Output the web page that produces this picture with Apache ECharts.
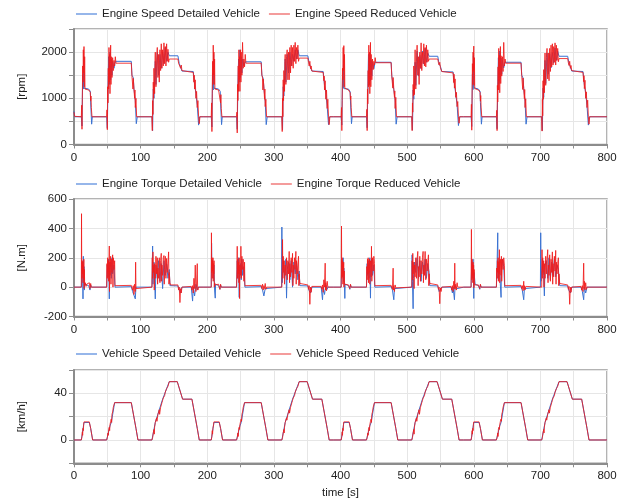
<!DOCTYPE html>
<html>
<head>
<meta charset="utf-8">
<script src="https://cdn.jsdelivr.net/npm/echarts@6/dist/echarts.min.js"></script>
<style>
  html, body { margin: 0; padding: 0; background: #fff; }
  #chart { width: 627px; height: 502px; }
</style>
</head>
<body>
<div id="chart"></div>
<script>
// start time of each repetition of the drive cycle [s]; the cycle arrays below use time relative to it
const cycleStart = [0, 195, 390, 585];

// engine speed [rpm]
const esRed1 = [[0,700],[1,610],[11,600],[11.5,850],[12,330],[12.5,1000],[13,1700],[13.5,1350],[14,2050],[14.5,1550],[15,2120],[15.5,1250],[16,1900],[16.5,1200],[17,1180],[22,1180],[22.5,1140],[24.5,1130],[25,950],[25.5,1050],[26,800],[27,600],[49,600],[49.5,750],[50,320],[50.5,1250],[51,900],[51.5,1650],[52,1200],[52.5,2100],[53,1350],[53.5,1950],[54,1100],[54.5,1750],[55,2150],[55.5,1300],[56,1900],[57,1450],[58,1880],[59,1600],[60,1820],[61,1700],[62,1900],[63,1760],[86,1760],[87,1480],[88,1450],[88.5,1200],[89,1430],[90,1200],[91,1000],[91.5,1180],[92,800],[93,1000],[94,600],[117,600],[117.5,300],[118,950],[118.5,650],[119,1350],[119.5,1000],[120,1650],[121,1100],[121.5,1750],[122,2000],[123,1250],[124,1850],[125,2100],[126,1450],[127,1950],[128,1350],[129,2050],[130,1600],[131,2180],[132,1650],[133,2050],[134,1700],[135,2200],[136,1750],[137,2120],[138,1700],[139,2180],[140,1800],[141,2060],[142,1780],[143,1850],[156,1850],[157,1760],[158,1720],[159,1790],[160,1650],[161,1720],[162,1600],[163,1560],[179,1560],[180,1350],[180.5,1500],[181,1200],[182,1400],[183,1000],[184,1150],[185,800],[186,950],[187,600],[188,450],[189,600],[195,600]];
const esRed2 = [[0,600],[11,600],[11.5,900],[12,280],[12.5,1100],[13,1800],[13.5,1300],[14,2150],[14.5,1500],[15,2000],[15.5,1300],[16,1850],[16.5,1200],[17,1180],[22,1180],[22.5,1130],[24.5,1130],[25,900],[25.5,1080],[26,780],[27,600],[49,600],[49.5,700],[50,250],[50.5,1300],[51,950],[51.5,1700],[52,1150],[52.5,2050],[53,1400],[53.5,1900],[54,1150],[54.5,1800],[55,2050],[55.5,1350],[56,2000],[57,1500],[58,2210],[59,1650],[60,1850],[61,1680],[62,1950],[63,1760],[86,1760],[87,1500],[88,1440],[88.5,1180],[89,1420],[90,1250],[91,980],[91.5,1200],[92,820],[93,980],[94,600],[117,600],[117.5,280],[118,1000],[118.5,600],[119,1400],[119.5,950],[120,1600],[121,1150],[121.5,1800],[122,1950],[123,1300],[124,1900],[125,2050],[126,1400],[127,2000],[128,1400],[129,2100],[130,1550],[131,2150],[132,1700],[133,2100],[134,1650],[135,2150],[136,1800],[137,2210],[138,1750],[139,2100],[140,1850],[141,2150],[142,1800],[143,1870],[156,1870],[157,1780],[158,1700],[159,1800],[160,1640],[161,1700],[162,1590],[163,1560],[179,1560],[180,1380],[180.5,1480],[181,1180],[182,1380],[183,980],[184,1180],[185,780],[186,980],[187,600],[188,430],[189,600],[195,600]];
const esRed3 = [[0,600],[11,600],[11.5,800],[12,300],[12.5,950],[13,1650],[13.5,1400],[14,2100],[14.5,1600],[15,2140],[15.5,1250],[16,1950],[16.5,1220],[17,1180],[22,1180],[22.5,1140],[24.5,1120],[25,970],[25.5,1050],[26,800],[27,600],[49,600],[49.5,760],[50,300],[50.5,1200],[51,880],[51.5,1600],[52,1250],[52.5,2150],[53,1300],[53.5,2000],[54,1100],[54.5,1700],[55,2210],[55.5,1250],[56,1950],[57,1400],[58,1850],[59,1620],[60,1800],[61,1720],[62,1880],[63,1770],[86,1770],[87,1470],[88,1460],[88.5,1220],[89,1450],[90,1200],[91,1020],[91.5,1160],[92,780],[93,1020],[94,600],[117,600],[117.5,300],[118,900],[118.5,700],[119,1300],[119.5,1050],[120,1700],[121,1080],[121.5,1700],[122,2050],[123,1200],[124,1800],[125,2150],[126,1500],[127,1900],[128,1300],[129,2000],[130,1650],[131,2200],[132,1600],[133,2000],[134,1750],[135,2180],[136,1700],[137,2100],[138,1680],[139,2150],[140,1780],[141,2050],[142,1800],[143,1850],[156,1850],[157,1770],[158,1720],[159,1780],[160,1660],[161,1700],[162,1580],[163,1550],[179,1550],[180,1340],[180.5,1520],[181,1220],[182,1420],[183,1020],[184,1130],[185,820],[186,930],[187,600],[188,460],[189,600],[195,600]];
const esRed4 = [[0,600],[11,600],[11.5,870],[12,310],[12.5,1050],[13,1750],[13.5,1300],[14,2000],[14.5,1580],[15,2130],[15.5,1280],[16,1880],[16.5,1210],[17,1180],[22,1180],[22.5,1140],[24.5,1130],[25,940],[25.5,1060],[26,810],[27,600],[49,600],[49.5,740],[50,300],[50.5,1280],[51,920],[51.5,1680],[52,1180],[52.5,2080],[53,1380],[53.5,1930],[54,1120],[54.5,1780],[55,2120],[55.5,1320],[56,1920],[57,1480],[58,1900],[59,1580],[60,2210],[61,1700],[62,1850],[63,1760],[86,1760],[87,1490],[88,1450],[88.5,1190],[89,1440],[90,1210],[91,990],[91.5,1190],[92,800],[93,990],[94,600],[117,600],[117.5,290],[118,980],[118.5,620],[119,1380],[119.5,980],[120,1620],[121,1120],[121.5,1780],[122,1980],[123,1280],[124,1880],[125,2080],[126,1420],[127,1980],[128,1380],[129,2080],[130,1580],[131,2150],[132,1680],[133,2180],[134,1720],[135,2120],[136,1780],[137,2200],[138,1720],[139,2150],[140,1820],[141,2080],[142,1790],[143,1860],[156,1860],[157,1770],[158,1710],[159,1800],[160,1650],[161,1710],[162,1600],[163,1560],[179,1560],[180,1360],[180.5,1490],[181,1210],[182,1390],[183,1000],[184,1140],[185,800],[186,960],[187,600],[188,440],[189,600],[215,600]];

const esBlue1 = [[0,720],[1,600],[11,600],[12,400],[13,1500],[14,1200],[14.5,1900],[15,1220],[17,1200],[22,1200],[24.5,1150],[25,900],[26.5,440],[27.5,600],[49,600],[50,350],[51,1200],[52,1900],[53,1300],[54,2000],[55,1400],[56,1850],[57,1500],[58,1800],[60,1650],[62,1800],[86,1800],[87,1500],[89,1450],[90,1200],[92,950],[93.5,450],[95,600],[117,600],[118,300],[119,1200],[120,1000],[122,1800],[123,1300],[125,2000],[127,1500],[129,1950],[131,1650],[133,2000],[135,1750],[137,2100],[139,1800],[141,2000],[143,1920],[156,1920],[158,1750],[160,1680],[162,1590],[163,1580],[179,1580],[181,1300],[183,1100],[185,850],[187,420],[188.5,600],[195,600]];
const esBlue2 = [[0,600],[11,600],[12,380],[13,1550],[14,1180],[14.5,1950],[15,1220],[17,1200],[22,1200],[24.5,1150],[25,900],[26.5,430],[27.5,600],[49,600],[50,330],[51,1250],[52,1850],[53,1350],[54,2050],[55,1450],[56,1900],[57,1550],[58,1850],[60,1700],[62,1790],[86,1790],[87,1500],[89,1430],[90,1220],[92,930],[93.5,430],[95,600],[117,600],[118,320],[119,1250],[120,1050],[122,1850],[123,1350],[125,1950],[127,1550],[129,2000],[131,1700],[133,1950],[135,1800],[137,2050],[139,1850],[141,2050],[143,1920],[156,1920],[158,1760],[160,1670],[162,1590],[163,1580],[179,1580],[181,1280],[183,1120],[185,830],[187,430],[188.5,600],[195,600]];
const esBlue3 = [[0,600],[11,600],[12,420],[13,1450],[14,1220],[14.5,1850],[15,1210],[17,1200],[22,1200],[24.5,1140],[25,920],[26.5,450],[27.5,600],[49,600],[50,360],[51,1180],[52,1950],[53,1280],[54,1980],[55,1380],[56,1820],[57,1480],[58,1780],[60,1640],[62,1780],[86,1780],[87,1490],[89,1460],[90,1190],[92,960],[93.5,440],[95,600],[117,600],[118,310],[119,1180],[120,980],[122,1780],[123,1280],[125,2020],[127,1480],[129,1930],[131,1640],[133,2020],[135,1740],[137,2080],[139,1780],[141,1980],[143,1910],[156,1910],[158,1740],[160,1690],[162,1580],[163,1570],[179,1570],[181,1310],[183,1090],[185,860],[187,410],[188.5,600],[195,600]];
const esBlue4 = [[0,600],[11,600],[12,390],[13,1520],[14,1190],[14.5,1920],[15,1230],[17,1200],[22,1200],[24.5,1150],[25,910],[26.5,440],[27.5,600],[49,600],[50,340],[51,1220],[52,1880],[53,1320],[54,2020],[55,1420],[56,1870],[57,1520],[58,1820],[60,1660],[62,1780],[86,1780],[87,1500],[89,1440],[90,1210],[92,940],[93.5,440],[95,600],[117,600],[118,300],[119,1220],[120,1020],[122,1820],[123,1320],[125,1980],[127,1520],[129,1970],[131,1660],[133,1990],[135,1760],[137,2090],[139,1820],[141,2020],[143,1910],[156,1910],[158,1750],[160,1680],[162,1590],[163,1580],[179,1580],[181,1290],[183,1110],[185,840],[187,420],[188.5,600],[215,600]];

// engine torque [N.m]
const tqRed1 = [[0,0],[11,0],[11.3,500],[11.6,120],[12,60],[12.4,180],[12.8,90],[13.2,170],[13.6,30],[14,150],[14.4,60],[14.8,190],[15.2,-10],[15.6,120],[16,10],[17,30],[18,5],[19,20],[22,15],[23,30],[24,-10],[25,25],[26,0],[49,0],[49.5,160],[50,60],[50.5,200],[51,100],[51.5,180],[52,40],[52.5,150],[53,280],[53.3,-30],[53.7,170],[54,80],[55,210],[55.5,20],[56,190],[57,100],[58,220],[58.5,0],[59,200],[60,120],[61,180],[61.5,10],[62,12],[86,12],[87,0],[88,-20],[89,10],[90,-50],[91,20],[92,-30],[92.5,170],[93,-10],[94,0],[117,0],[117.5,200],[118,60],[118.5,240],[119,100],[120,150],[120.5,-20],[121,160],[122,60],[123,210],[124,90],[125,200],[125.5,20],[126,130],[127,60],[128,200],[129,30],[130,180],[131,230],[131.5,40],[132,150],[133,80],[134,200],[135,215],[135.5,20],[136,120],[137,210],[138,60],[139,195],[140,100],[141,160],[142,240],[142.5,20],[143,100],[144,30],[145,15],[156,15],[157,-20],[158,0],[159,-105],[160,-10],[161,-40],[162,0],[163,5],[176,5],[177,-20],[178,10],[179,-40],[180,60],[181,-10],[182,150],[183,-30],[184,20],[185,160],[185.5,0],[186,-20],[187,0],[195,0]];
const tqRed2 = [[0,0],[11,0],[11.3,370],[11.6,100],[12,200],[12.4,60],[12.8,180],[13.2,110],[13.6,200],[14,40],[14.4,160],[14.8,90],[15.2,180],[15.6,0],[16,30],[17,15],[18,25],[19,10],[22,20],[23,10],[24,-15],[25,20],[26,0],[49,0],[49.5,120],[50,278],[50.5,60],[51,190],[51.5,90],[52,170],[52.5,30],[53,200],[53.5,-78],[54,150],[55,80],[55.5,278],[56,60],[57,210],[58,120],[59,190],[60,40],[61,170],[61.5,10],[62,12],[86,12],[87,-10],[88,20],[89,-20],[90,10],[91,-10],[92,25],[93,-15],[94,0],[117,0],[117.5,150],[118,324],[118.5,60],[119,210],[120,100],[120.5,180],[121,20],[122,150],[123,80],[124,200],[125,50],[126,180],[127,90],[128,243],[128.5,30],[129,160],[130,70],[131,200],[132,100],[133,230],[133.5,10],[134,150],[135,60],[136,200],[137,120],[138,243],[138.5,20],[139,180],[140,90],[141,150],[142,210],[142.5,10],[143,90],[144,25],[145,15],[156,15],[157,-15],[158,10],[159,-117],[160,0],[161,-35],[162,5],[163,5],[176,5],[177,-15],[178,15],[179,-35],[180,50],[181,0],[182,163],[182.5,-20],[183,30],[184,-25],[185,40],[186,0],[195,0]];
const tqRed3 = [[0,0],[11,0],[11.5,416],[11.8,120],[12,60],[12.4,200],[12.8,70],[13.2,180],[13.6,20],[14,160],[14.4,80],[14.8,170],[15.2,0],[15.6,110],[16,20],[17,25],[18,10],[19,25],[22,15],[23,25],[24,-10],[25,20],[26,0],[49,0],[49.5,140],[50,50],[50.5,190],[51,90],[51.5,200],[52,30],[52.5,160],[53,100],[53.5,190],[54,20],[55,180],[56,70],[56.5,278],[57,40],[58,200],[59,110],[60,210],[61,160],[61.5,10],[62,12],[86,12],[87,0],[88,-15],[89,129],[89.5,-20],[90,10],[91,-30],[92,15],[93,-5],[94,0],[117,0],[117.5,180],[118,50],[118.5,230],[119,90],[120,170],[120.5,-10],[121,150],[122,70],[123,200],[124,60],[125,190],[126,243],[126.5,10],[127,140],[128,70],[129,210],[130,40],[131,180],[132,90],[133,200],[134,243],[134.5,30],[135,150],[136,80],[137,243],[138,50],[139,190],[140,110],[141,170],[142,220],[142.5,10],[143,90],[144,25],[145,15],[156,15],[157,-15],[158,0],[159,-113],[160,-5],[161,-30],[162,0],[163,5],[176,5],[177,-20],[178,10],[179,-30],[180,40],[181,-10],[181.5,163],[182,-15],[183,20],[184,-20],[185,30],[186,0],[195,0]];
const tqRed4 = [[0,0],[11,0],[11.5,393],[11.8,170],[12,50],[12.4,190],[12.8,80],[13.2,160],[13.6,30],[14,170],[14.4,60],[14.8,150],[15.2,-5],[15.6,120],[16,15],[17,25],[18,10],[19,20],[22,15],[23,25],[24,-10],[25,20],[26,0],[49,0],[49.5,130],[50,60],[50.5,180],[51,100],[51.5,200],[52,40],[52.5,170],[53,90],[53.5,255],[54,30],[55,190],[56,80],[56.5,210],[57,40],[58,190],[59,120],[60,200],[61,150],[61.5,10],[62,12],[86,12],[87,-10],[88,10],[89,-25],[90,40],[90.5,-15],[91,10],[92,-20],[93,5],[94,0],[117,0],[117.5,255],[118,60],[118.5,200],[119,100],[120,180],[120.5,0],[121,160],[122,60],[123,210],[124,90],[125,190],[126,255],[126.5,30],[127,150],[128,80],[129,220],[130,40],[131,190],[132,100],[133,240],[133.5,20],[134,160],[135,70],[136,210],[137,110],[138,250],[138.5,20],[139,170],[140,90],[141,160],[142,200],[142.5,10],[143,90],[144,25],[145,15],[156,15],[157,-15],[158,5],[159,-117],[160,0],[161,-35],[162,0],[163,5],[176,5],[177,-20],[178,10],[179,-30],[180,163],[180.5,-10],[181,40],[182,-20],[183,30],[184,-15],[185,0],[215,0]];

const tqBlue1 = [[0,0],[11,0],[12,170],[12.5,100],[13,150],[13.5,-80],[14,210],[14.5,50],[15,140],[15.5,-20],[16,20],[17,25],[22,10],[24,-20],[25,15],[26,0],[49,0],[50,150],[51,70],[52,190],[53,-80],[53.5,120],[55,170],[56,60],[57,200],[58,90],[60,150],[61.5,0],[62,3],[86,3],[88,-30],[90,-20],[92,-80],[93,0],[117,0],[118,280],[118.5,20],[120,170],[122,-80],[123,150],[125,60],[127,180],[129,40],[131,160],[133,-10],[135,180],[137,80],[139,160],[141,60],[143,120],[144,10],[145,8],[156,8],[158,-20],[160,-40],[162,0],[176,0],[178,-95],[179,0],[181,-60],[183,20],[185,-20],[186,0],[195,0]];
const tqBlue2 = [[0,0],[11,0],[11.5,300],[12,120],[13,180],[14,60],[15,150],[16,-20],[17,-75],[17.5,20],[22,10],[24,-15],[25,15],[26,0],[49,0],[50,180],[51,60],[52,200],[53,-70],[53.5,130],[55,160],[56,50],[57,190],[58,80],[60,140],[61.5,0],[62,3],[86,3],[88,-20],[90,-60],[92,-10],[93,0],[116.5,0],[117,409],[117.5,30],[119,180],[121,60],[123,190],[124,-75],[125,120],[127,170],[129,50],[131,180],[133,0],[135,170],[137,90],[139,170],[141,50],[143,110],[144,10],[145,8],[156,8],[158,-25],[160,-40],[162,0],[176,0],[178,-86],[179,0],[181,-50],[183,15],[185,-15],[186,0],[195,0]];
const tqBlue3 = [[0,0],[11,0],[12,180],[12.5,90],[13,160],[14,200],[14.5,40],[15,130],[16.5,-77],[17,20],[22,10],[24,-15],[25,15],[26,0],[49,0],[50,160],[51,80],[52,180],[53,60],[54,200],[55,-75],[55.5,110],[57,190],[58,80],[60,150],[61.5,0],[62,3],[86,3],[88,-20],[90,-86],[91,-10],[93,0],[117,0],[117.5,220],[118,40],[119,-147],[119.5,60],[121,170],[123,100],[125,200],[127,60],[129,180],[131,40],[133,170],[135,90],[137,190],[139,60],[141,160],[143,100],[144,10],[145,8],[156,8],[158,-30],[160,-40],[162,0],[176,0],[178,-40],[179,0],[181,-86],[182,10],[185,-10],[186,0],[195,0]];
const tqBlue4 = [[0,0],[11,0],[12,170],[12.5,60],[13,150],[14,190],[15,-77],[15.5,100],[17,20],[22,10],[24,-15],[25,15],[26,0],[49,0],[50,150],[51,370],[51.5,60],[53,180],[54,90],[56,-70],[56.5,120],[58,190],[60,140],[61.5,0],[62,3],[86,3],[88,-25],[90,-86],[91,-10],[93,0],[115,0],[115.5,370],[116,40],[118,190],[120,80],[121,-60],[122,150],[124,180],[126,60],[128,200],[130,50],[132,170],[134,80],[136,190],[138,70],[140,150],[142,120],[144,10],[145,8],[156,8],[158,-25],[160,-40],[162,0],[176,0],[178,-30],[180,-86],[181,0],[183,-40],[185,0],[215,0]];

// vehicle speed [km/h]
const vsRed1 = [[0,0],[11,0],[12,3],[12.5,7],[13,4],[13.5,10],[14,8],[14.5,13],[15,15.5],[23,15.5],[25,10],[28,0],[49,0],[50,2],[51,6],[51.5,4],[52,9],[53,11],[53.5,8],[54,13],[55,16],[56,18],[56.5,15],[57,22],[58,24],[59,28],[61,32],[86,32],[93,10],[96,0],[117,0],[118,2],[119,6],[120,9],[120.5,5],[121,11],[122,15],[123,16],[124,19],[124.5,16],[126,22],[127,24],[128,26],[128.5,22],[130,28],[132,32],[133,34],[134,36],[136,38],[137,41],[139,44],[140,43],[141,46],[143,50],[155,50],[163,35],[177,35],[185,10],[188,0],[195,0]];
const vsRed2 = [[0,0],[11,0],[12,3],[12.5,8],[13,5],[13.5,10],[14,9],[14.5,13],[15,15.5],[23,15.5],[25,10],[28,0],[49,0],[50,2],[51,6],[51.5,3],[52,9],[53,11],[53.5,9],[54,13],[55,16],[56,18],[56.5,16],[57,22],[58,24],[59,28],[61,32],[86,32],[93,10],[96,0],[117,0],[118,2],[119,6],[120,9],[120.5,6],[121,11],[122,15],[123,16],[124,19],[124.5,17],[126,22],[127,24],[128,26],[128.5,23],[130,28],[132,32],[133,34],[134,36],[136,38],[137,41],[139,44],[140,43],[141,46],[143,50],[155,50],[163,35],[177,35],[185,10],[188,0],[195,0]];
const vsRed3 = [[0,0],[11,0],[12,3],[12.5,7],[13,4],[13.5,10],[14,8],[14.5,13],[15,15.5],[23,15.5],[25,10],[28,0],[49,0],[50,2],[51,6],[51.5,4],[52,9],[53,11],[53.5,8],[54,13],[55,16],[56,18],[56.5,15],[57,22],[58,24],[59,28],[61,32],[86,32],[93,10],[96,0],[117,0],[118,2],[119,6],[120,9],[120.5,5],[121,11],[122,15],[123,16],[124,19],[124.5,16],[126,22],[127,24],[128,26],[128.5,22],[130,28],[132,32],[133,34],[134,36],[136,38],[137,41],[139,44],[140,43],[141,46],[143,50],[155,50],[163,35],[177,35],[185,10],[188,0],[195,0]];
const vsRed4 = [[0,0],[11,0],[12,3],[12.5,8],[13,5],[13.5,10],[14,8],[14.5,13],[15,15.5],[23,15.5],[25,10],[28,0],[49,0],[50,2],[51,6],[51.5,3],[52,9],[53,11],[53.5,9],[54,13],[55,16],[56,18],[56.5,16],[57,22],[58,24],[59,28],[61,32],[86,32],[93,10],[96,0],[117,0],[118,2],[119,6],[120,9],[120.5,6],[121,11],[122,15],[123,16],[124,19],[124.5,17],[126,22],[127,24],[128,26],[128.5,23],[130,28],[132,32],[133,34],[134,36],[136,38],[137,41],[139,44],[140,43],[141,46],[143,50],[155,50],[163,35],[177,35],[185,10],[188,0],[215,0]];

const vsBlue1 = [[0,0],[11,0],[15,15],[23,15],[25,10],[28,0],[49,0],[54,12],[56,15],[61,32],[86,32],[93,10],[96,0],[117,0],[122,15],[124,16],[133,35],[135,36],[143,50],[155,50],[163,35],[177,35],[185,10],[188,0],[195,0]];
const vsBlue2 = [[0,0],[11,0],[15,15],[23,15],[25,10],[28,0],[49,0],[54,12],[56,15],[61,32],[86,32],[93,10],[96,0],[117,0],[122,15],[124,16],[133,35],[135,36],[143,50],[155,50],[163,35],[177,35],[185,10],[188,0],[195,0]];
const vsBlue3 = [[0,0],[11,0],[15,15],[23,15],[25,10],[28,0],[49,0],[54,12],[56,15],[61,32],[86,32],[93,10],[96,0],[117,0],[122,15],[124,16],[133,35],[135,36],[143,50],[155,50],[163,35],[177,35],[185,10],[188,0],[195,0]];
const vsBlue4 = [[0,0],[11,0],[15,15],[23,15],[25,10],[28,0],[49,0],[54,12],[56,15],[61,32],[86,32],[93,10],[96,0],[117,0],[122,15],[124,16],[133,35],[135,36],[143,50],[155,50],[163,35],[177,35],[185,10],[188,0],[215,0]];

// put the cycles one after the other on the time axis
function joinCycles(cycles) {
    const out = [];
    cycles.forEach((c, i) => c.forEach(p => out.push([p[0] + cycleStart[i], p[1]])));
    return out;
}

const FONT = '"Liberation Sans", Arial, sans-serif';
const FS = 11.5;
const BLUE = '#3a72d2';
const RED = '#f01c1c';
const AXIS = '#8c8c8c';

const myChart = echarts.init(document.getElementById('chart'));

function xAxisFor(gi, name) {
    return {
        gridIndex: gi, type: 'value', min: 0, max: 800, interval: 50,
        name: name || '', nameLocation: 'middle', nameGap: 24,
        nameTextStyle: { fontSize: FS, color: '#222', fontFamily: FONT },
        axisLine: { onZero: false, lineStyle: { color: AXIS, width: 2 } },
        axisTick: { length: 4, lineStyle: { color: AXIS } },
        axisLabel: { fontSize: FS, color: '#222', fontFamily: FONT, margin: 7, formatter: v => (v % 100 === 0 ? String(v) : '') },
        splitLine: { lineStyle: { color: '#e6e6e6', width: 1 } }
    };
}

function yAxisFor(gi, min, max, step, labelStep, name) {
    return {
        gridIndex: gi, type: 'value', min: min, max: max, interval: step,
        name: name, nameLocation: 'middle', nameGap: 46,
        nameTextStyle: { fontSize: FS, color: '#222', fontFamily: FONT },
        axisLine: { onZero: false, lineStyle: { color: AXIS, width: 2 } },
        axisTick: { length: 5, lineStyle: { color: AXIS } },
        axisLabel: { fontSize: FS, color: '#222', fontFamily: FONT, margin: 7, formatter: v => (v % labelStep === 0 ? String(v) : '') },
        splitLine: { lineStyle: { color: '#e6e6e6', width: 1 } }
    };
}

function legendFor(top, names) {
    return {
        top: top, left: 76, padding: 0, icon: 'rect', itemWidth: 21, itemHeight: 2, itemGap: 9,
        textStyle: { fontSize: FS, color: '#222', fontFamily: FONT },
        data: [
            { name: names[0], itemStyle: { color: '#96b6ea' } },
            { name: names[1], itemStyle: { color: '#f49c9c' } }
        ]
    };
}

function lineSeries(name, gi, data, color, opacity) {
    return {
        name: name, type: 'line', xAxisIndex: gi, yAxisIndex: gi, data: data,
        showSymbol: false, symbol: 'none', silent: true, animation: false,
        lineStyle: { color: color, width: 1, opacity: opacity },
        itemStyle: { color: color }
    };
}

const gridBox = { left: 74, right: 20, show: true, borderColor: '#9a9a9a', borderWidth: 1.5 };

const option = {
    animation: false,
    textStyle: { fontFamily: FONT },
    grid: [
        { ...gridBox, top: 29, height: 115.5 },
        { ...gridBox, top: 199, height: 117.5 },
        { ...gridBox, top: 370, height: 93.3 }
    ],
    legend: [
        legendFor(8, ['Engine Speed Detailed Vehicle', 'Engine Speed Reduced Vehicle']),
        legendFor(178, ['Engine Torque Detailed Vehicle', 'Engine Torque Reduced Vehicle']),
        legendFor(348, ['Vehicle Speed Detailed Vehicle', 'Vehicle Speed Reduced Vehicle'])
    ],
    xAxis: [xAxisFor(0), xAxisFor(1), xAxisFor(2, 'time [s]')],
    yAxis: [
        yAxisFor(0, 0, 2500, 500, 1000, '[rpm]'),
        yAxisFor(1, -200, 600, 200, 200, '[N.m]'),
        yAxisFor(2, -20, 60, 20, 40, '[km/h]')
    ],
    series: [
        lineSeries('Engine Speed Detailed Vehicle', 0, joinCycles([esBlue1, esBlue2, esBlue3, esBlue4]), BLUE, 1),
        lineSeries('Engine Speed Reduced Vehicle', 0, joinCycles([esRed1, esRed2, esRed3, esRed4]), RED, 0.85),
        lineSeries('Engine Torque Detailed Vehicle', 1, joinCycles([tqBlue1, tqBlue2, tqBlue3, tqBlue4]), BLUE, 1),
        lineSeries('Engine Torque Reduced Vehicle', 1, joinCycles([tqRed1, tqRed2, tqRed3, tqRed4]), RED, 0.85),
        lineSeries('Vehicle Speed Detailed Vehicle', 2, joinCycles([vsBlue1, vsBlue2, vsBlue3, vsBlue4]), BLUE, 1),
        lineSeries('Vehicle Speed Reduced Vehicle', 2, joinCycles([vsRed1, vsRed2, vsRed3, vsRed4]), RED, 0.85)
    ]
};

myChart.setOption(option);
</script>
</body>
</html>
